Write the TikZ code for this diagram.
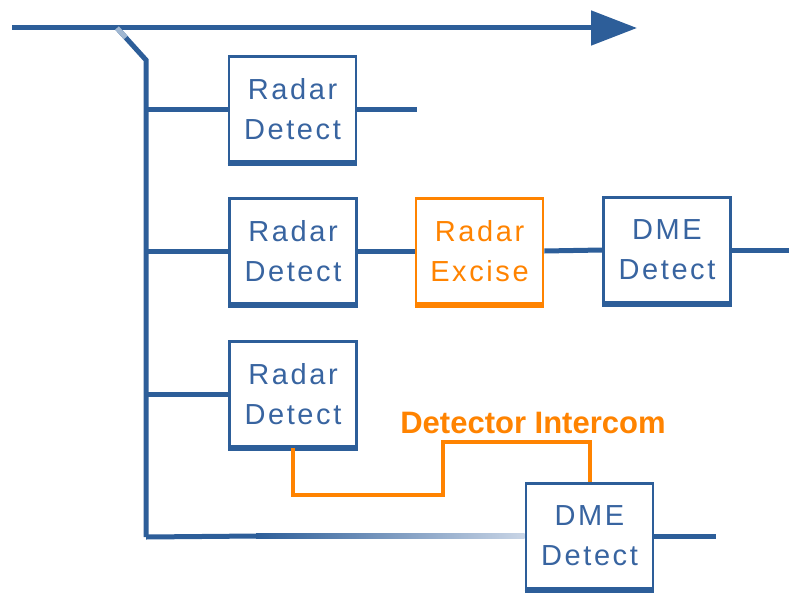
\documentclass[tikz,border=0pt]{standalone}
\usepackage{fontspec}
\usetikzlibrary{arrows.meta,calc}
\newfontfamily\boxfont[LetterSpace=9]{Liberation Sans}
\newfontfamily\labfont{Liberation Sans}
\definecolor{busblue}{HTML}{2D5E99}
\definecolor{txtblue}{HTML}{3864A0}
\definecolor{fadeblue}{HTML}{C9D5E6}
\definecolor{orng}{HTML}{FF8300}
\tikzset{
  bus/.style={draw=busblue, line width=5pt},
  blockbox/.style={draw=busblue, line width=2.6pt, minimum width=127pt, minimum height=105pt,
    inner sep=0pt, align=center, text=txtblue,
    font=\boxfont\fontsize{29pt}{40pt}\selectfont},
  hotbox/.style={blockbox, draw=orng, text=orng},
  intercom/.style={draw=orng, line width=4pt},
  intercomlabel/.style={text=orng, font=\labfont\bfseries\fontsize{31pt}{36pt}\selectfont, inner sep=0pt}
}
\begin{document}
\begin{tikzpicture}[x=1pt, y=-1pt]
\useasboundingbox (0,0) rectangle (789,594);

% processing blocks
\node[blockbox] (rd1) at (292.5,109) {Radar\\Detect};
\node[blockbox] (rd2) at (293,251) {Radar\\Detect};
\node[hotbox] (ex) at (479.5,251) {Radar\\Excise};
\node[blockbox] (dme1) at (667,250) {DME\\Detect};
\node[blockbox] (rd3) at (293,394) {Radar\\Detect};
\node[blockbox] (dme2) at (589.5,536) {DME\\Detect};

% heavier bottom edges
\foreach \n/\c in {rd1/busblue, rd2/busblue, ex/orng, dme1/busblue, rd3/busblue, dme2/busblue}
  \draw[draw=\c, line width=3pt] ([yshift=-2pt]\n.south west) -- ([yshift=-2pt]\n.south east);

% main signal line with arrow
\coordinate (inL) at (12,28);
\coordinate (outR) at (637,28);
\draw[bus, -{Triangle[length=46pt, width=34pt]}] (inL) -- (outR);

% tap and vertical bus
\coordinate (tap) at (117,28);
\coordinate (busTop) at (146,60);
\coordinate (busBot) at (146,537);
\draw[bus, line join=miter] (tap) -- (busTop) -- (busBot);
\draw[draw=busblue!45, line width=5pt] (tap) -- ($(tap)!0.3!(busTop)$);

% branches into the detectors
\draw[bus] (busTop |- rd1) -- (rd1.west);
\draw[bus] (busTop |- rd2) -- (rd2.west);
\draw[bus] (busTop |- rd3) -- (rd3.west);

% outputs and chain
\coordinate (o1) at (417,109);
\draw[bus] (rd1.east) -- (o1);
\draw[bus] (rd2.east) -- (ex.west);
\draw[bus] (ex.east) -- (dme1.west);
\coordinate (o2) at (789,250);
\draw[bus] (dme1.east) -- (o2);
\coordinate (o3) at (716,536);
\draw[bus] (dme2.east) -- (o3);

% bottom branch fading toward the DME block
\coordinate (fadeStart) at (256,536);
\draw[bus] (busBot) -- (fadeStart);
\shade[left color=busblue, right color=fadeblue] ($(fadeStart)+(0,-2.5)$) rectangle ($(dme2.west)+(0,2.5)$);

% detector intercom link
\coordinate (ic1) at (443,495);
\coordinate (ic2) at (443,442);
\draw[intercom, line join=miter] (rd3.south) |- (ic1) -- (ic2) -| (dme2.north);
\node[intercomlabel] (iclabel) at (533,423) {Detector Intercom};
\end{tikzpicture}
\end{document}
